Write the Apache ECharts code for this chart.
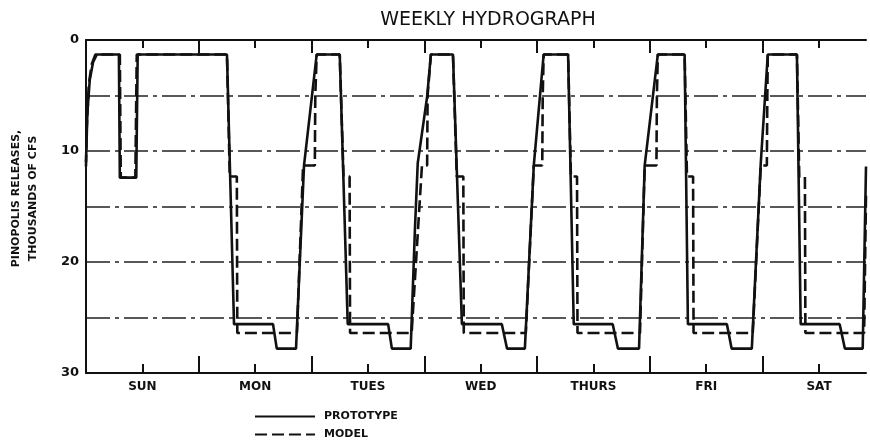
<!DOCTYPE html>
<html>
<head>
<meta charset="utf-8">
<title>Weekly Hydrograph</title>
<script src="https://cdn.jsdelivr.net/npm/echarts@6/dist/echarts.min.js"></script>
<style>
  html, body { margin: 0; padding: 0; background: #fff; }
  #chart { width: 870px; height: 447px; }
</style>
</head>
<body>
<div id="chart"></div>
<script>
// x = hours from start of Sunday, y = releases in thousands of cfs
const day_names = ["SUN", "MON", "TUES", "WED", "THURS", "FRI", "SAT"];
const day_centers = [12, 36, 60, 84, 108, 132, 156];
const day_bounds = [0, 24, 48, 72, 96, 120, 144];
const y_labels = [0, 10, 20, 30];

const prototype_hours = [
  0, 0.3, 0.8, 1.5, 2.3, 7.0, 7.2, 10.7, 11.0,
  30.0, 31.5, 39.8, 40.6, 44.7, 46.4, 49.1,
  54.0, 55.7, 64.3, 65.1, 69.1, 70.0, 70.6, 72.6, 73.4,
  78.1, 80.0, 88.5, 89.6, 93.4, 95.3, 97.4,
  102.6, 103.8, 112.1, 113.2, 117.7, 118.9, 121.7,
  127.4, 128.1, 136.4, 137.4, 141.7, 143.6, 145.1,
  151.3, 152.1, 160.4, 161.5, 165.3, 166.0
];
const prototype_flow = [
  11.0, 6.5, 3.6, 2.0, 1.3, 1.3, 12.4, 12.4, 1.3,
  1.3, 25.6, 25.6, 27.8, 27.8, 11.3, 1.3,
  1.3, 25.6, 25.6, 27.8, 27.8, 17.1, 11.1, 5.1, 1.3,
  1.3, 25.6, 25.6, 27.8, 27.8, 11.3, 1.3,
  1.3, 25.6, 25.6, 27.8, 27.8, 11.3, 1.3,
  1.3, 25.6, 25.6, 27.8, 27.8, 11.1, 1.3,
  1.3, 25.6, 25.6, 27.8, 27.8, 11.4
];

const model_hours = [
  0, 0.15, 0.6, 1.2, 2.0, 7.2, 7.4, 10.5, 10.8,
  30.0, 30.6, 32.1, 32.2, 44.9, 46.2, 48.7, 48.8, 49.1,
  54.0, 54.8, 56.1, 56.2, 69.3, 71.5, 72.6, 72.7, 73.4,
  78.1, 78.9, 80.3, 80.4, 93.6, 95.3, 97.1, 97.2, 97.4,
  102.6, 103.2, 104.5, 104.6, 117.9, 118.9, 121.4, 121.5, 121.7,
  127.4, 127.9, 129.2, 129.3, 141.9, 143.6, 144.9, 145.0, 145.1,
  151.3, 151.8, 153.0, 153.1, 165.6, 166.0
];
const model_flow = [
  11.4, 8.0, 4.0, 2.2, 1.3, 1.3, 12.4, 12.4, 1.3,
  1.3, 12.3, 12.3, 26.4, 26.4, 11.3, 11.3, 5.0, 1.3,
  1.3, 12.3, 12.3, 26.4, 26.4, 11.3, 11.3, 5.0, 1.3,
  1.3, 12.3, 12.3, 26.4, 26.4, 11.3, 11.3, 5.0, 1.3,
  1.3, 12.3, 12.3, 26.4, 26.4, 11.3, 11.3, 5.0, 1.3,
  1.3, 12.3, 12.3, 26.4, 26.4, 11.3, 11.3, 5.0, 1.3,
  1.3, 12.3, 12.3, 26.4, 26.4, 14.0
];

const ink = "#111";
const font = "DejaVu Sans";
const pairs = (hs, vs) => hs.map((h, i) => [h, vs[i]]);

const chart = echarts.init(document.getElementById("chart"));

// one x axis per tick length, bottom and top
function x_axis(position, ticks, len, opts) {
  return Object.assign({
    type: "value",
    position: position,
    min: 0,
    max: 166,
    axisLine: { show: false, onZero: false },
    axisTick: { show: true, inside: true, length: len, customValues: ticks,
      lineStyle: { color: ink, width: 2 } },
    axisLabel: { show: false },
    splitLine: { show: false },
  }, opts || {});
}

chart.setOption({
  backgroundColor: "#fff",
  animation: false,
  title: {
    text: "WEEKLY HYDROGRAPH",
    left: 483,
    top: 6,
    textAlign: "center",
    textStyle: { color: ink, fontFamily: font, fontSize: 19, fontWeight: "normal" },
  },
  legend: {
    orient: "vertical",
    left: 254,
    top: 411,
    padding: 0,
    itemWidth: 60,
    itemHeight: 12,
    itemGap: 7,
    selectedMode: false,
    itemStyle: { color: "transparent", opacity: 0, borderWidth: 0 },
    textStyle: { color: ink, fontFamily: font, fontSize: 11, fontWeight: "bold", padding: [0, 0, 0, 4] },
    data: ["PROTOTYPE", "MODEL"],
  },
  grid: { left: 86, right: 4, top: 40, bottom: 74, outerBoundsMode: "none", containLabel: false },
  xAxis: [
    x_axis("bottom", day_bounds, 17, {
      axisLine: { show: true, onZero: false, lineStyle: { color: ink, width: 2 } },
      axisLabel: {
        show: true,
        customValues: day_centers,
        formatter: (v) => day_names[day_centers.indexOf(v)] || "",
        color: ink, fontFamily: font, fontSize: 12, fontWeight: "bold", margin: 8,
      },
    }),
    x_axis("bottom", day_centers, 9),
    x_axis("top", day_bounds, 13, {
      axisLine: { show: true, onZero: false, lineStyle: { color: ink, width: 2 } },
    }),
    x_axis("top", day_centers, 8),
  ],
  yAxis: {
    type: "value",
    inverse: true,
    min: 0,
    max: 30,
    interval: 5,
    name: "PINOPOLIS RELEASES,\nTHOUSANDS OF CFS",
    nameLocation: "middle",
    nameRotate: 90,
    nameGap: 44,
    nameTextStyle: { color: ink, fontFamily: font, fontSize: 11, fontWeight: "bold",
      lineHeight: 17, padding: [0, 0, 0, 16] },
    axisLine: { show: true, onZero: false, lineStyle: { color: ink, width: 2 } },
    axisTick: { show: false },
    axisLabel: {
      customValues: y_labels,
      color: ink, fontFamily: font, fontSize: 13, fontWeight: "bold", margin: 7,
    },
    splitLine: { show: true, lineStyle: { color: "#222", width: 1.6, type: [24, 5, 4, 5] } },
  },
  series: [
    {
      name: "MODEL",
      type: "line",
      data: pairs(model_hours, model_flow),
      symbol: "none",
      lineStyle: { color: ink, width: 2.6, type: [12, 5] },
      itemStyle: { color: ink },
      z: 3,
    },
    {
      name: "PROTOTYPE",
      type: "line",
      data: pairs(prototype_hours, prototype_flow),
      symbol: "none",
      lineStyle: { color: ink, width: 2.6 },
      itemStyle: { color: ink },
      z: 4,
    },
  ],
});

window.addEventListener("resize", () => chart.resize());
</script>
</body>
</html>
